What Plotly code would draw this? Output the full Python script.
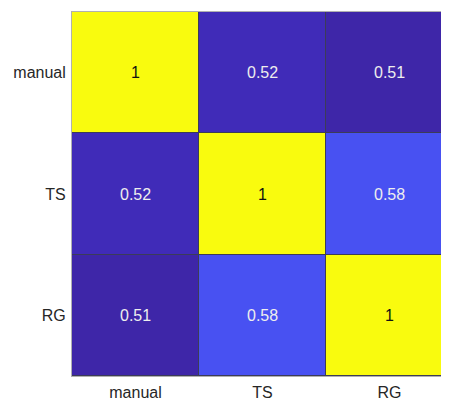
import plotly.graph_objects as go

labels = ["manual", "TS", "RG"]
corr = [
    [1.00, 0.52, 0.51],
    [0.52, 1.00, 0.58],
    [0.51, 0.58, 1.00],
]
value_text = [["1", "0.52", "0.51"], ["0.52", "1", "0.58"], ["0.51", "0.58", "1"]]

parula = [
    [0.00, "#3E26A8"], [0.05, "#4433CE"], [0.10, "#4743E8"], [0.15, "#4853F4"],
    [0.20, "#4367FD"], [0.25, "#2F7FF9"], [0.30, "#2C91ED"], [0.40, "#1AA9DB"],
    [0.50, "#0EBBB8"], [0.60, "#2CC590"], [0.70, "#7BC85A"], [0.80, "#C9C127"],
    [0.90, "#FDBE3C"], [1.00, "#F9FB0E"],
]

zmin = min(min(r) for r in corr)
zmax = max(max(r) for r in corr)

fig = go.Figure(go.Heatmap(
    z=corr, x=labels, y=labels,
    colorscale=parula, zmin=zmin, zmax=zmax,
    showscale=False, xgap=1, ygap=1, hoverinfo="skip",
))

FONT = "Liberation Sans, Arial, sans-serif"
annotations = []
for i, row_label in enumerate(labels):
    for j, col_label in enumerate(labels):
        v = corr[i][j]
        annotations.append(dict(
            x=col_label, y=row_label, text=value_text[i][j], showarrow=False,
            font=dict(family=FONT, size=16,
                      color="#111111" if v > 0.8 else "#EEEEEE"),
        ))

# page body has an 8px margin, so the figure is offset by 8px
fig.update_layout(
    width=449, height=391, autosize=False,
    margin=dict(l=64, r=8, t=4, b=23, autoexpand=False),
    paper_bgcolor="white", plot_bgcolor="#3c3c58",
    annotations=annotations,
    font=dict(family=FONT, size=16, color="#262626"),
)
fig.update_xaxes(
    type="category", range=[-0.5, 2.469], showgrid=False, zeroline=False,
    ticks="", showline=True, linecolor="#b0b0b0", linewidth=1, mirror=False,
    ticklabelstandoff=2, automargin=False,
)
fig.update_yaxes(
    type="category", autorange="reversed", showgrid=False, zeroline=False,
    ticks="", showline=True, linecolor="#b0b0b0", linewidth=1,
    ticklabelstandoff=2, automargin=False,
)
fig.update_layout(xaxis2=dict(overlaying="x", side="top", showline=True, linecolor="#b0b0b0",
                              showticklabels=False, ticks="", showgrid=False, zeroline=False,
                              range=[-0.5, 2.469], type="linear", automargin=False))
fig.add_trace(go.Scatter(x=[], y=[], xaxis="x2", showlegend=False, hoverinfo="skip"))

fig.write_html("out.html")
